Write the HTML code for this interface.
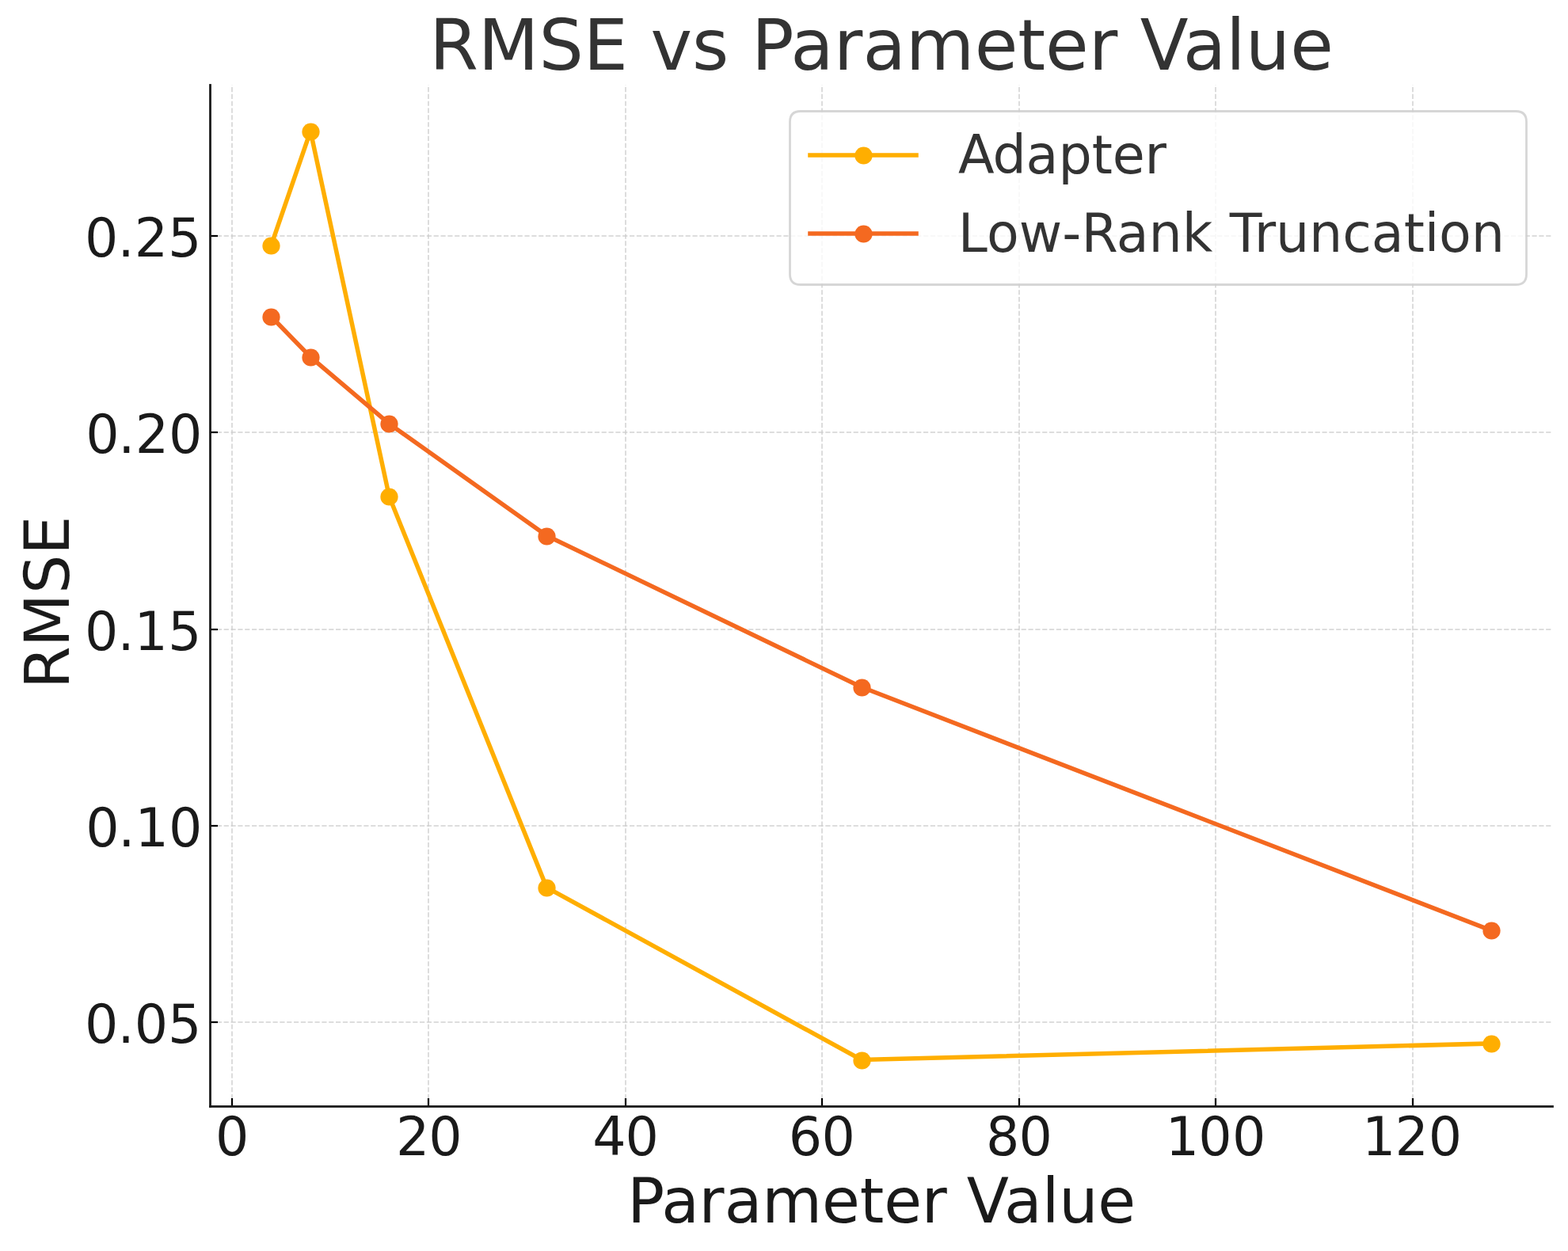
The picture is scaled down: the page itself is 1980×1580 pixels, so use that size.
<!DOCTYPE html>
<html lang="en"><head><meta charset="utf-8"><title>RMSE vs Parameter Value</title>
<style>
html,body{margin:0;padding:0;background:#ffffff;}
body{width:1980px;height:1580px;overflow:hidden;}
svg{display:block;position:absolute;left:0;top:0;}
text{font-family:"DejaVu Sans","Liberation Sans",sans-serif;font-weight:400;font-style:normal;white-space:pre;}
.t{font-size:88.889px;fill:#333333;}
.l{font-size:77.778px;fill:#1a1a1a;}
.k{font-size:66.667px;fill:#1a1a1a;}
.g{font-size:66.667px;fill:#333333;}
</style></head>
<body>
<svg width="1980" height="1580" viewBox="0 0 1980 1580">
<rect x="0" y="0" width="1980" height="1580" fill="#ffffff"/>
<g fill="none" stroke="#cccccc" stroke-opacity="0.8" stroke-width="1.6667" stroke-dasharray="6.1667 2.6667">
<path d="M293 1397V107"/>
<path d="M541 1397V107"/>
<path d="M790 1397V107"/>
<path d="M1038 1397V107"/>
<path d="M1287 1397V107"/>
<path d="M1535 1397V107"/>
<path d="M1784 1397V107"/>
<path stroke-opacity="0.877" d="M265 298H1960"/>
<path stroke-opacity="0.877" d="M265 546H1960"/>
<path stroke-opacity="0.877" d="M265 795H1960"/>
<path stroke-opacity="0.877" d="M265 1043H1960"/>
<path stroke-opacity="0.877" d="M265 1291H1960"/>
</g>
<polyline points="342.36,310.14 392.06,165.64 491.45,627 690.24,1120.88 1087.82,1338.52 1882.97,1317.92" fill="none" stroke="#ffae00" stroke-width="5.5556" stroke-linejoin="round" stroke-linecap="square"/>
<g fill="#ffae00"><circle cx="342.5" cy="310.5" r="11.111"/><circle cx="392.5" cy="166.5" r="11.111"/><circle cx="491.5" cy="627.5" r="11.111"/><circle cx="690.5" cy="1121.5" r="11.111"/><circle cx="1088.5" cy="1339.5" r="11.111"/><circle cx="1883.5" cy="1318.5" r="11.111"/></g>
<polyline points="342.36,399.72 392.06,450.82 491.45,535.19 690.24,676.51 1087.82,867.78 1882.97,1175.1" fill="none" stroke="#f46920" stroke-width="5.5556" stroke-linejoin="round" stroke-linecap="square"/>
<g fill="#f46920"><circle cx="342.5" cy="400.5" r="11.111"/><circle cx="392.5" cy="451.5" r="11.111"/><circle cx="491.5" cy="535.5" r="11.111"/><circle cx="690.5" cy="677.5" r="11.111"/><circle cx="1088.5" cy="868.5" r="11.111"/><circle cx="1883.5" cy="1175.5" r="11.111"/></g>
<g fill="none" stroke="#000000" stroke-width="2.2222">
<path d="M293 1397.5V1387"/>
<path d="M541 1397.5V1387"/>
<path d="M790 1397.5V1387"/>
<path d="M1038 1397.5V1387"/>
<path d="M1287 1397.5V1387"/>
<path d="M1535 1397.5V1387"/>
<path d="M1784 1397.5V1387"/>
<path d="M265.5 298H275"/>
<path d="M265.5 546H275"/>
<path d="M265.5 795H275"/>
<path d="M265.5 1043H275"/>
<path d="M265.5 1291H275"/>
</g>
<g fill="#1a1a1a">
<rect x="264.111" y="106.111" width="2.7778" height="1292.778"/><rect x="264.111" y="1396.111" width="1697.778" height="2.7778"/>
</g>
<text class="k" transform="translate(271.5 1459) scale(1 1.015)" x="0.5" y="0" stroke="#1a1a1a" stroke-width="0.07">0</text>
<text class="k" transform="translate(499.5 1459) scale(1 1.015)" x="0.628 41.861" y="0" stroke="#ffffff" stroke-width="0.01">20</text>
<text class="k" transform="translate(747.7 1459) scale(1 1.015)" x="0.535 41.841" y="0" stroke="#ffffff" stroke-width="0.01">40</text>
<text class="k" transform="translate(995.8 1459) scale(1 1.015)" x="0.004 41.594" y="0">60</text>
<text class="k" transform="translate(1244.4 1459) scale(1 1.015)" x="0.689 42.072" y="0">80</text>
<text class="k" transform="translate(1471.5 1459) scale(1 1.015)" x="0.377 41.851 84.394" y="0" stroke="#1a1a1a" stroke-width="0.01">100</text>
<text class="k" transform="translate(1719.2 1459) scale(1 1.015)" x="0.708 42.332 84.648" y="0" stroke="#ffffff" stroke-width="0.03">120</text>
<text class="k" transform="translate(106.35 324) scale(1 1.015)" x="0.751 42.211 63.443 105.717" y="0" stroke="#ffffff" stroke-width="0.07">0.25</text>
<text class="k" transform="translate(107.15 572) scale(1 1.015)" x="0.989 42.195 63.705 105.945" y="0" stroke="#ffffff" stroke-width="0.01">0.20</text>
<text class="k" transform="translate(106.35 821) scale(1 1.015)" x="0.743 42.214 63.054 105.741" y="0" stroke="#ffffff" stroke-width="0.06">0.15</text>
<text class="k" transform="translate(107.15 1069) scale(1 1.015)" x="0.981 42.195 63.32 105.937" y="0" stroke="#1a1a1a" stroke-width="0.01">0.10</text>
<text class="k" transform="translate(106.35 1317) scale(1 1.015)" x="0.735 42.223 63.332 105.737" y="0" stroke="#ffffff" stroke-width="0.02">0.05</text>
<text class="l" transform="translate(791.7 1544)" x="0.489 43.568 90.879 123.002 170.596 246.199 294.04 324.56 371.978 404.498 429.12 476.308 523.959 545.622 594.575" y="0" stroke="#1a1a1a" stroke-width="0.04">Parameter Value</text>
<text class="l" transform="translate(87 870.75) rotate(-90)" x="0.872 53.724 120.855 169.917" y="0" stroke="#ffffff" stroke-width="0.13">RMSE</text>
<text class="t" transform="translate(542.4 88)" x="-0.034 61.315 138.115 194.381 251.002 279.105 331.658 378.153 406.556 455.891 510.464 547.032 601.48 688.287 742.853 777.734 832.411 868.78 897.43 951.353 1005.506 1030.39 1086.826" y="0" stroke="#333333" stroke-width="0.01">RMSE vs Parameter Value</text>
<path d="M1010.833 140.5H1914.167Q1927.5 140.5 1927.5 153.833V346.167Q1927.5 359.5 1914.167 359.5H1010.833Q997.5 359.5 997.5 346.167V153.833Q997.5 140.5 1010.833 140.5Z" fill="#ffffff" fill-opacity="0.8" stroke="#cccccc" stroke-opacity="0.8" stroke-width="2.7778" stroke-linejoin="miter"/>
<path d="M1023 196H1157" fill="none" stroke="#ffae00" stroke-width="5.5556" stroke-linecap="square"/>
<circle cx="1090.5" cy="196.5" r="11.111" fill="#ffae00"/>
<text class="g" transform="translate(1209 219) scale(1 1.02)" x="0.994 44.434 86.628 127.581 169.765 195.775 236.541" y="0" stroke="#333333" stroke-width="0.01">Adapter</text>
<path d="M1023 295H1157" fill="none" stroke="#f46920" stroke-width="5.5556" stroke-linecap="square"/>
<circle cx="1090.5" cy="295.5" r="11.111" fill="#f46920"/>
<text class="g" transform="translate(1209.8 318) scale(1 1.02)" x="0.042 36.134 76.856 131.346 155.579 200.069 240.773 282.967 321.716 342.956 373.903 401.238 443.305 485.374 522.074 562.953 588.927 607.28 647.897" y="0" stroke="#ffffff" stroke-width="0.04">Low-Rank Truncation</text>
</svg>
</body></html>
